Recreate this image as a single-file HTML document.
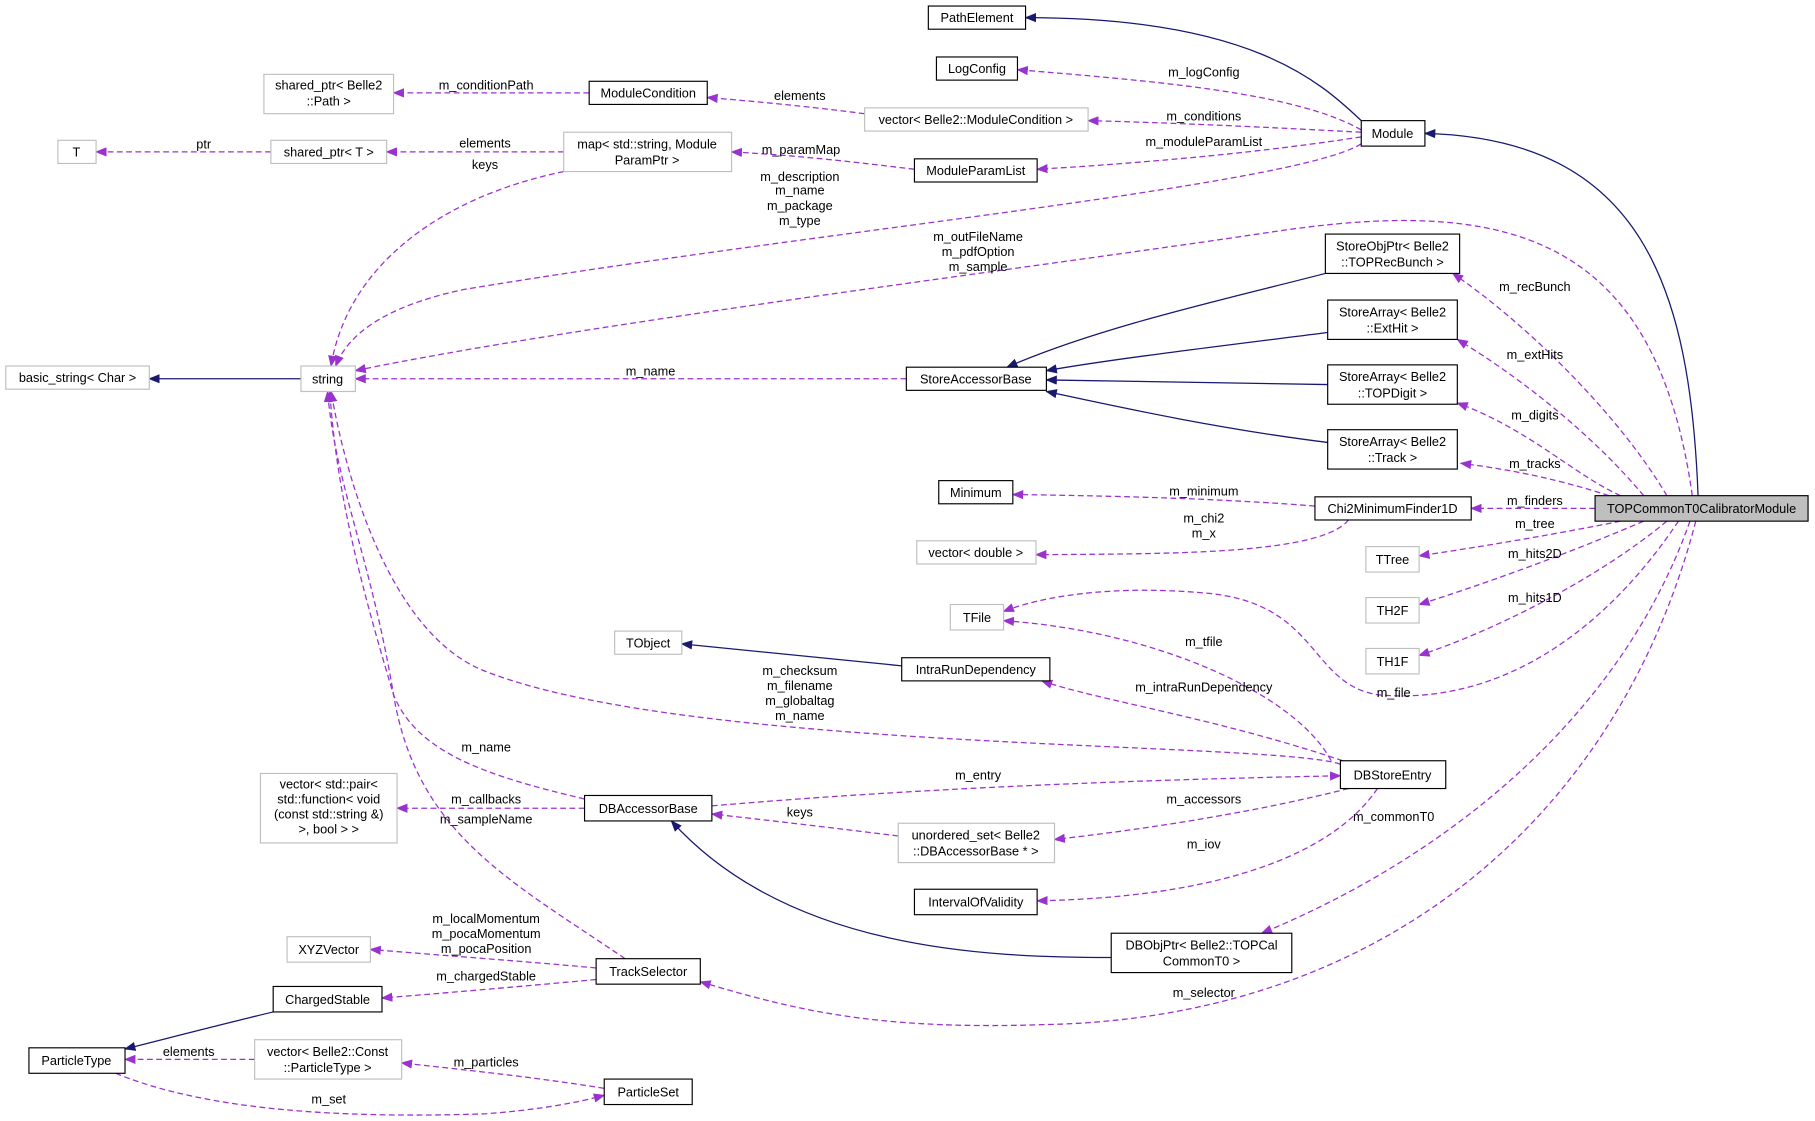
<!DOCTYPE html>
<html><head><meta charset="utf-8"><style>
html,body{margin:0;padding:0;background:#fff;}
svg{display:block;}
text{font-family:"Liberation Sans",sans-serif;font-size:11px;fill:#000;}
.b{fill:#fff;stroke:#000;stroke-width:1}
.g{fill:#fff;stroke:#bfbfbf;stroke-width:1}
.s{fill:none;stroke:#191970;stroke-width:1.1}
.d{fill:none;stroke:#9a32cd;stroke-width:1.1;stroke-dasharray:5,3}
</style></head><body>
<svg width="1815" height="1121" viewBox="0 0 1568 968" xmlns="http://www.w3.org/2000/svg">
<defs>
<marker id="ab" markerWidth="10" markerHeight="8" refX="9" refY="4" orient="auto" markerUnits="userSpaceOnUse"><path d="M0,0 L10,4 L0,8 z" fill="#191970"/></marker>
<marker id="ap" markerWidth="10" markerHeight="8" refX="9" refY="4" orient="auto" markerUnits="userSpaceOnUse"><path d="M0,0 L10,4 L0,8 z" fill="#9a32cd"/></marker>
</defs>
<g text-anchor="middle">
<path class="s" marker-end="url(#ab)" d="M1176,104 C1140,70 1080,15 886,15"/>
<path class="s" marker-end="url(#ab)" d="M1467,428 C1460,250 1420,120 1231,115"/>
<path class="s" marker-end="url(#ab)" d="M260,327 L129,327"/>
<path class="s" marker-end="url(#ab)" d="M1145,236 C1060,258 950,282 870,317"/>
<path class="s" marker-end="url(#ab)" d="M1147,287 C1060,298 960,310 904,320"/>
<path class="s" marker-end="url(#ab)" d="M1147,332 L904,328"/>
<path class="s" marker-end="url(#ab)" d="M1147,382 C1050,370 960,350 904,338"/>
<path class="s" marker-end="url(#ab)" d="M779,575 L589,556"/>
<path class="s" marker-end="url(#ab)" d="M960,827 C850,827 680,820 580,709"/>
<path class="s" marker-end="url(#ab)" d="M236,874 C190,885 140,898 108,906"/>
<path class="d" marker-end="url(#ap)" d="M1176,112 C1120,80 1000,70 879,60"/>
<path class="d" marker-end="url(#ap)" d="M1176,114 C1100,110 1020,106 940,104"/>
<path class="d" marker-end="url(#ap)" d="M1176,118 C1100,130 1000,140 896,146"/>
<path class="d" marker-end="url(#ap)" d="M747,98 C700,92 660,88 611,84"/>
<path class="d" marker-end="url(#ap)" d="M509,80 L340,80"/>
<path class="d" marker-end="url(#ap)" d="M790,146 C740,140 690,134 632,131"/>
<path class="d" marker-end="url(#ap)" d="M487,131 L334,131"/>
<path class="d" marker-end="url(#ap)" d="M234,131 L83,131"/>
<path class="d" marker-end="url(#ap)" d="M487,148 C380,170 300,230 286,316"/>
<path class="d" marker-end="url(#ap)" d="M1176,124 C1120,160 700,200 400,250 C330,265 300,290 290,316"/>
<path class="d" marker-end="url(#ap)" d="M1462,428 C1430,200 1300,170 1100,200 C900,230 500,280 307,320"/>
<path class="d" marker-end="url(#ap)" d="M783,327 L307,327"/>
<path class="d" marker-end="url(#ap)" d="M1158,660 C1100,640 600,650 420,580 C340,550 300,420 286,338"/>
<path class="d" marker-end="url(#ap)" d="M505,690 C420,670 360,650 340,600 C310,500 290,420 285,338"/>
<path class="d" marker-end="url(#ap)" d="M540,828 C440,760 360,720 340,600 C320,480 290,420 283,338"/>
<path class="d" marker-end="url(#ap)" d="M1378,439 L1271,439"/>
<path class="d" marker-end="url(#ap)" d="M1390,428 C1350,415 1310,406 1262,400"/>
<path class="d" marker-end="url(#ap)" d="M1400,428 C1360,410 1320,370 1259,348"/>
<path class="d" marker-end="url(#ap)" d="M1420,428 C1380,380 1320,330 1259,293"/>
<path class="d" marker-end="url(#ap)" d="M1440,428 C1400,360 1320,280 1255,236"/>
<path class="d" marker-end="url(#ap)" d="M1400,450 C1340,462 1280,472 1226,480"/>
<path class="d" marker-end="url(#ap)" d="M1420,450 C1350,480 1280,505 1226,522"/>
<path class="d" marker-end="url(#ap)" d="M1440,450 C1380,500 1290,545 1226,566"/>
<path class="d" marker-end="url(#ap)" d="M1450,450 C1390,540 1300,610 1190,600 C1130,590 1140,520 1040,512 C960,505 900,515 867,528"/>
<path class="d" marker-end="url(#ap)" d="M1460,450 C1400,620 1250,740 1090,806"/>
<path class="d" marker-end="url(#ap)" d="M1465,450 C1400,700 1200,880 900,885 C750,890 680,870 605,848"/>
<path class="d" marker-end="url(#ap)" d="M1136,437 C1050,430 950,428 875,427"/>
<path class="d" marker-end="url(#ap)" d="M1165,449 C1140,480 1000,478 895,479"/>
<path class="d" marker-end="url(#ap)" d="M1150,657 C1120,600 1000,545 867,536"/>
<path class="d" marker-end="url(#ap)" d="M1160,657 C1050,620 950,605 900,588"/>
<path class="d" marker-end="url(#ap)" d="M615,696 C800,680 1000,673 1158,670"/>
<path class="d" marker-end="url(#ap)" d="M1165,681 C1090,700 1000,715 911,725"/>
<path class="d" marker-end="url(#ap)" d="M776,722 C720,715 660,708 615,703"/>
<path class="d" marker-end="url(#ap)" d="M1190,681 C1150,740 1050,775 896,778"/>
<path class="d" marker-end="url(#ap)" d="M505,698 L343,698"/>
<path class="d" marker-end="url(#ap)" d="M515,836 C450,830 380,825 320,820"/>
<path class="d" marker-end="url(#ap)" d="M515,846 C450,852 380,858 330,862"/>
<path class="d" marker-end="url(#ap)" d="M220,915 L108,915"/>
<path class="d" marker-end="url(#ap)" d="M522,940 C460,930 400,924 347,918"/>
<path class="d" marker-end="url(#ap)" d="M100,927 C180,960 300,966 420,962 C470,958 500,952 522,946"/>
<rect class="b" x="802" y="5" width="84" height="20"/><text x="844" y="19">PathElement</text>
<rect class="b" x="809" y="49" width="70" height="20"/><text x="844" y="63">LogConfig</text>
<rect class="g" x="228" y="64" width="112" height="34"/><text x="284" y="77">shared_ptr&lt; Belle2</text><text x="284" y="91">::Path &gt;</text>
<rect class="b" x="509" y="70" width="102" height="20"/><text x="560" y="84">ModuleCondition</text>
<rect class="g" x="747" y="93" width="193" height="20"/><text x="843" y="107">vector&lt; Belle2::ModuleCondition &gt;</text>
<rect class="b" x="1176" y="104" width="55" height="22"/><text x="1203" y="119">Module</text>
<rect class="g" x="50" y="121" width="33" height="20"/><text x="66" y="135">T</text>
<rect class="g" x="234" y="121" width="100" height="20"/><text x="284" y="135">shared_ptr&lt; T &gt;</text>
<rect class="g" x="487" y="114" width="145" height="34"/><text x="559" y="128">map&lt; std::string, Module</text><text x="559" y="142">ParamPtr &gt;</text>
<rect class="b" x="790" y="137" width="106" height="20"/><text x="843" y="151">ModuleParamList</text>
<rect class="b" x="1145" y="202" width="116" height="34"/><text x="1203" y="216">StoreObjPtr&lt; Belle2</text><text x="1203" y="230">::TOPRecBunch &gt;</text>
<rect class="b" x="1147" y="259" width="112" height="34"/><text x="1203" y="273">StoreArray&lt; Belle2</text><text x="1203" y="287">::ExtHit &gt;</text>
<rect class="b" x="1147" y="315" width="112" height="34"/><text x="1203" y="329">StoreArray&lt; Belle2</text><text x="1203" y="343">::TOPDigit &gt;</text>
<rect class="b" x="1147" y="371" width="112" height="34"/><text x="1203" y="385">StoreArray&lt; Belle2</text><text x="1203" y="399">::Track &gt;</text>
<rect class="g" x="5" y="316" width="124" height="20"/><text x="67" y="330">basic_string&lt; Char &gt;</text>
<rect class="g" x="260" y="316" width="47" height="22"/><text x="283" y="331">string</text>
<rect class="b" x="783" y="317" width="121" height="20"/><text x="843" y="331">StoreAccessorBase</text>
<rect class="b" x="811" y="415" width="64" height="20"/><text x="843" y="429">Minimum</text>
<rect class="b" x="1136" y="429" width="135" height="20"/><text x="1203" y="443">Chi2MinimumFinder1D</text>
<rect x="1378" y="428" width="184" height="22" fill="#bfbfbf" stroke="#000"/><text x="1470" y="443">TOPCommonT0CalibratorModule</text>
<rect class="g" x="792" y="467" width="103" height="20"/><text x="843" y="481">vector&lt; double &gt;</text>
<rect class="g" x="1180" y="472" width="46" height="22"/><text x="1203" y="487">TTree</text>
<rect class="g" x="1180" y="516" width="46" height="22"/><text x="1203" y="531">TH2F</text>
<rect class="g" x="821" y="522" width="46" height="22"/><text x="844" y="537">TFile</text>
<rect class="g" x="531" y="545" width="58" height="20"/><text x="560" y="559">TObject</text>
<rect class="g" x="1180" y="560" width="46" height="22"/><text x="1203" y="575">TH1F</text>
<rect class="b" x="779" y="568" width="128" height="20"/><text x="843" y="582">IntraRunDependency</text>
<rect class="b" x="1158" y="657" width="91" height="24"/><text x="1203" y="673">DBStoreEntry</text>
<rect class="g" x="225" y="668" width="118" height="60"/><text x="284" y="681">vector&lt; std::pair&lt;</text><text x="284" y="694">std::function&lt; void</text><text x="284" y="707">(const std::string &amp;)</text><text x="284" y="720">&gt;, bool &gt; &gt;</text>
<rect class="b" x="505" y="687" width="110" height="22"/><text x="560" y="702">DBAccessorBase</text>
<rect class="g" x="776" y="711" width="135" height="34"/><text x="843" y="725">unordered_set&lt; Belle2</text><text x="843" y="739">::DBAccessorBase * &gt;</text>
<rect class="b" x="790" y="768" width="106" height="22"/><text x="843" y="783">IntervalOfValidity</text>
<rect class="g" x="248" y="809" width="72" height="22"/><text x="284" y="824">XYZVector</text>
<rect class="b" x="960" y="806" width="156" height="34"/><text x="1038" y="820">DBObjPtr&lt; Belle2::TOPCal</text><text x="1038" y="834">CommonT0 &gt;</text>
<rect class="b" x="515" y="828" width="90" height="22"/><text x="560" y="843">TrackSelector</text>
<rect class="b" x="236" y="852" width="94" height="22"/><text x="283" y="867">ChargedStable</text>
<rect class="b" x="25" y="905" width="83" height="22"/><text x="66" y="920">ParticleType</text>
<rect class="g" x="220" y="898" width="127" height="34"/><text x="283" y="912">vector&lt; Belle2::Const</text><text x="283" y="926">::ParticleType &gt;</text>
<rect class="b" x="522" y="932" width="76" height="22"/><text x="560" y="947">ParticleSet</text>
<text x="1040" y="66">m_logConfig</text>
<text x="1040" y="104">m_conditions</text>
<text x="1040" y="126">m_moduleParamList</text>
<text x="420" y="77">m_conditionPath</text>
<text x="691" y="86">elements</text>
<text x="692" y="133">m_paramMap</text>
<text x="419" y="127">elements</text>
<text x="419" y="146">keys</text>
<text x="176" y="128">ptr</text>
<text x="691" y="156">m_description</text><text x="691" y="168">m_name</text><text x="691" y="181">m_package</text><text x="691" y="194">m_type</text>
<text x="845" y="208">m_outFileName</text><text x="845" y="221">m_pdfOption</text><text x="845" y="234">m_sample</text>
<text x="562" y="324">m_name</text>
<text x="1326" y="251">m_recBunch</text>
<text x="1326" y="310">m_extHits</text>
<text x="1326" y="362">m_digits</text>
<text x="1326" y="404">m_tracks</text>
<text x="1326" y="436">m_finders</text>
<text x="1326" y="456">m_tree</text>
<text x="1326" y="482">m_hits2D</text>
<text x="1326" y="520">m_hits1D</text>
<text x="1204" y="602">m_file</text>
<text x="1040" y="428">m_minimum</text>
<text x="1040" y="451">m_chi2</text><text x="1040" y="464">m_x</text>
<text x="1040" y="558">m_tfile</text>
<text x="1040" y="597">m_intraRunDependency</text>
<text x="691" y="583">m_checksum</text><text x="691" y="596">m_filename</text><text x="691" y="609">m_globaltag</text><text x="691" y="622">m_name</text>
<text x="420" y="649">m_name</text>
<text x="845" y="673">m_entry</text>
<text x="1040" y="694">m_accessors</text>
<text x="1204" y="709">m_commonT0</text>
<text x="691" y="705">keys</text>
<text x="1040" y="733">m_iov</text>
<text x="420" y="694">m_callbacks</text>
<text x="420" y="711">m_sampleName</text>
<text x="420" y="797">m_localMomentum</text><text x="420" y="810">m_pocaMomentum</text><text x="420" y="823">m_pocaPosition</text>
<text x="420" y="847">m_chargedStable</text>
<text x="1040" y="861">m_selector</text>
<text x="163" y="912">elements</text>
<text x="420" y="921">m_particles</text>
<text x="284" y="953">m_set</text>
</g>
</svg>
</body></html>
